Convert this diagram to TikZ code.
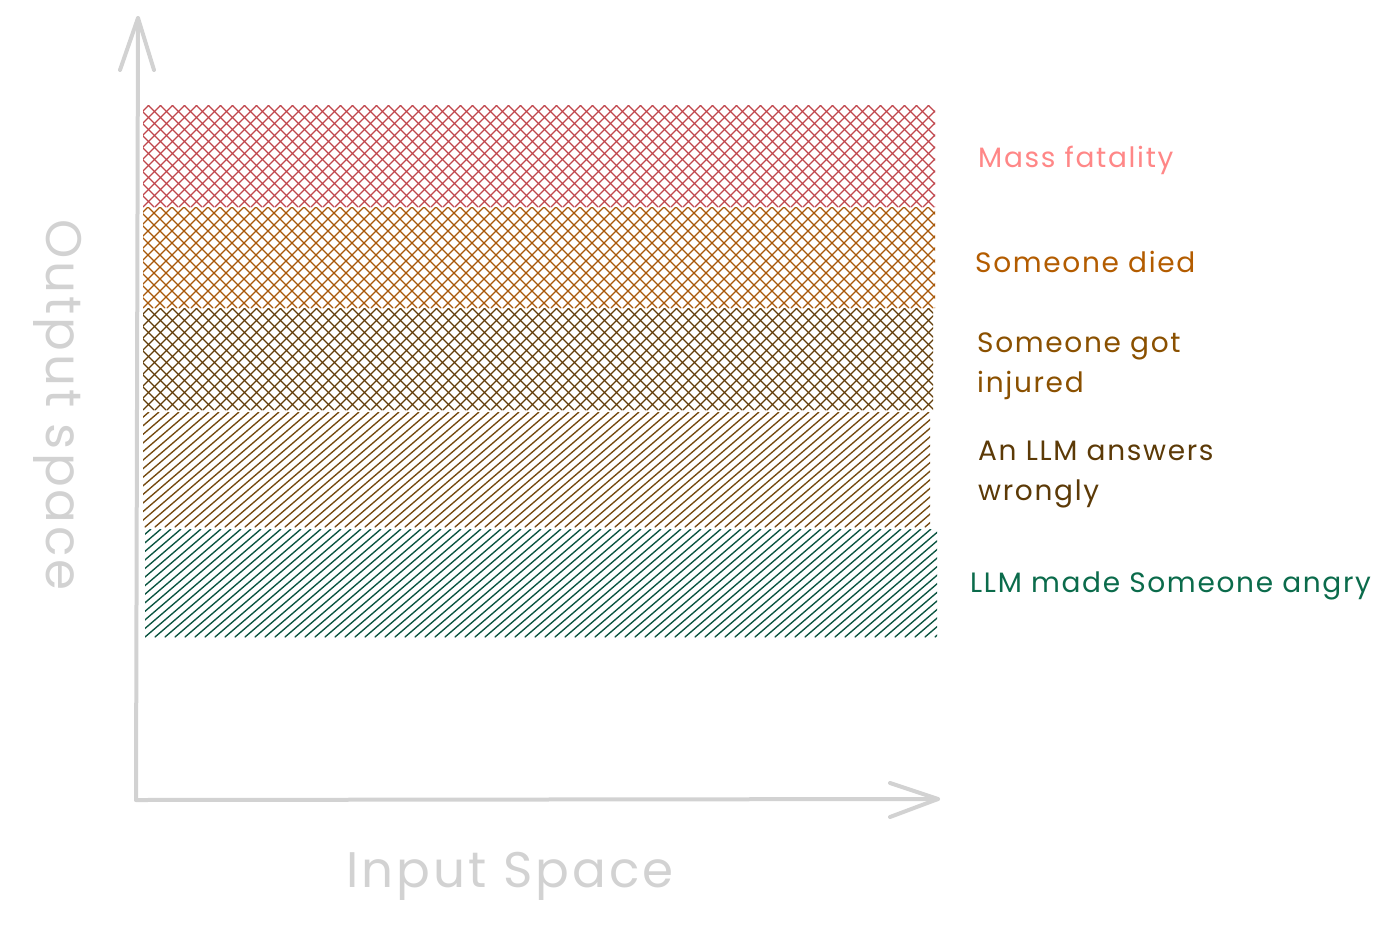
\documentclass[tikz,border=0pt]{standalone}
\usepackage{fontspec}
\setmainfont{Poppins}
\definecolor{axisgray}{HTML}{D2D2D2}
\definecolor{cRed}{HTML}{C0464C}
\definecolor{cOrange}{HTML}{A85808}
\definecolor{cDark}{HTML}{623C08}
\definecolor{cBrown}{HTML}{74490F}
\definecolor{cTeal}{HTML}{0A5440}
\definecolor{lRed}{HTML}{FF8787}
\definecolor{lOrange}{HTML}{B35C00}
\definecolor{lDark}{HTML}{8A5000}
\definecolor{lBrown}{HTML}{5C3A07}
\definecolor{lTeal}{HTML}{0B6B4B}
\begin{document}
\begin{tikzpicture}[x=1pt,y=-1pt,
  band/.style={line width=1.35pt, line cap=round},
  lbl/.style={anchor=west, font=\fontsize{28}{40}\selectfont\addfontfeatures{LetterSpace=6}, align=left, inner sep=0pt},
  axisline/.style={draw=axisgray, line width=4pt, line cap=round, line join=round},
  axlbl/.style={text=axisgray, font=\fontsize{50}{50}\selectfont\addfontfeatures{LetterSpace=6}, inner sep=0pt}]
\useasboundingbox (0,0) rectangle (1397,930);

% red cross-hatch band
\begin{scope}
\clip (143,105) rectangle (935,207);
\foreach \x in {35,47,...,935} {
  \draw[band, draw=cRed] (\x,207) -- ++(102,-102);
  \draw[band, draw=cRed] (\x+5,105) -- ++(102,102);
}
\end{scope}
% orange cross-hatch band
\begin{scope}
\clip (143,207) rectangle (935,308);
\foreach \x in {35,47,...,935} {
  \draw[band, draw=cOrange] (\x,308) -- ++(101,-101);
  \draw[band, draw=cOrange] (\x+5,207) -- ++(101,101);
}
\end{scope}
% dark brown cross-hatch band
\begin{scope}
\clip (143,308) rectangle (933,410);
\foreach \x in {35,47,...,935} {
  \draw[band, draw=cDark] (\x,410) -- ++(102,-102);
  \draw[band, draw=cDark] (\x+5,308) -- ++(102,102);
}
\end{scope}
% brown hachure band
\begin{scope}
\clip (143,412) rectangle (930,527);
\foreach \x in {5,15,...,935} {
  \draw[band, draw=cBrown] (\x,527) -- ++(134,-115);
}
\end{scope}
% teal hachure band
\begin{scope}
\clip (145,529) rectangle (937,637);
\foreach \x in {5,15,...,937} {
  \draw[band, draw=cTeal] (\x,637) -- ++(126,-108);
}
\end{scope}

% axes
\coordinate (O) at (136,800);
\coordinate (Ytip) at (138,18);
\coordinate (Xtip) at (938,799);
\draw[axisline] (O) -- (Ytip);
\draw[axisline] ([shift={(-18,52)}]Ytip) -- (Ytip) -- ([shift={(16,52)}]Ytip);
\draw[axisline] (O) -- (Xtip);
\draw[axisline] ([shift={(-48,-16)}]Xtip) -- (Xtip) -- ([shift={(-48,18)}]Xtip);

% axis labels
\node[axlbl, rotate=-90] (ylab) at (58,405) {Output space};
\node[axlbl] (xlab) at (510,876) {Input Space};

% band labels
\node[lbl, text=lRed] (mass) at (978,160) {Mass fatality};
\node[lbl, text=lOrange] (died) at (975,262) {Someone died};
\node[lbl, text=lDark] (injured) at (977,366) {Someone got\\injured};
\node[lbl, text=lBrown] (wrong) at (978,475) {An LLM answers\\wrongly};
\node[lbl, text=lTeal] (angry) at (970,586) {LLM made Someone angry};
\end{tikzpicture}
\end{document}
